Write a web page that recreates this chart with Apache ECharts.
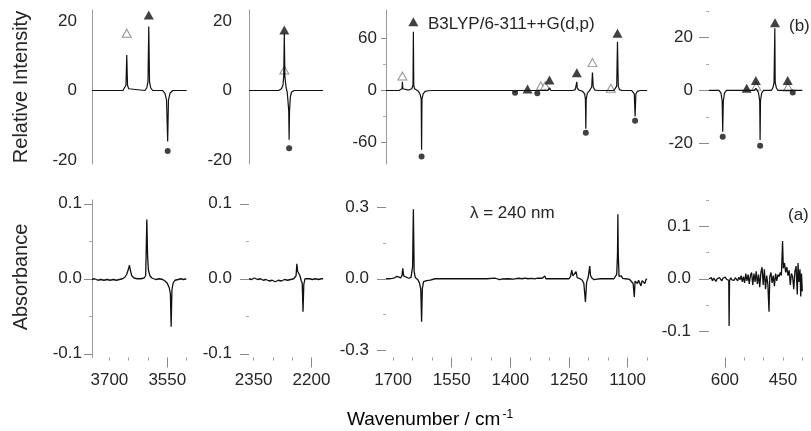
<!DOCTYPE html>
<html><head><meta charset="utf-8">
<script src="https://cdn.jsdelivr.net/npm/echarts@6/dist/echarts.min.js"></script>
<style>html,body{margin:0;padding:0;background:#fff}#c{width:811px;height:431px}</style>
</head><body><div id="c"></div>
<script>
// ---------- DATA (calculated spectrum, top row) ----------
var top1Curve = [[3745,0],[3665,0],[3660,0.5],[3657,1.5],[3655,10.2],[3653,1.5],[3650,0.5],[3645,0],[3608,0],[3603,0.8],[3600,2.5],[3598,18.4],[3596,2.5],[3593,0.8],[3588,0],[3562,0],[3556,-0.8],[3552,-2.8],[3549,-14.7],[3547,-2.8],[3543,-0.8],[3536,0],[3500,0]];
var top2Curve = [[2362,0],[2285,0],[2278,0.5],[2274,1.5],[2272,4],[2270.5,16.5],[2269,4],[2266,1],[2263,-0.5],[2261,-3],[2259,-6],[2258,-14.2],[2257,-6],[2255,-2],[2252,-0.5],[2245,0],[2170,0]];
var top3Curve = [[1718,0],[1685,0],[1680,0.5],[1677,2],[1676,10],[1675,2],[1670,0.5],[1660,0.5],[1652,2],[1649,6],[1648,67.6],[1647,6],[1645,2],[1640,1],[1635,-1],[1631,-4],[1628,-10],[1627,-68],[1626,-10],[1623,-4],[1618,-1],[1610,-0.3],[1600,0],[1395,0],[1388,-1.5],[1382,0],[1360,0],[1356,1],[1352,0],[1334,0],[1331,-1.5],[1328,0],[1304,0],[1300,3],[1296,0],[1240,0],[1234,1],[1231,3],[1230,10],[1229,3],[1225,0.5],[1215,-1],[1210,-4],[1208,-10],[1207,-44],[1206,-10],[1203,-3],[1198,-0.5],[1195,1],[1192,4],[1190,20.5],[1188,4],[1184,0.5],[1175,0],[1135,0],[1130,1.5],[1128,5],[1126,56],[1124,5],[1121,1],[1115,0],[1090,0],[1086,-1],[1083,-4],[1081,-30],[1079,-4],[1075,-1],[1068,0],[1050,0]];
var top4Curve = [[641,0],[615,0],[610,-1],[607,-4],[605.6,-15.6],[604,-4],[601,-1],[596,0],[548,0],[544,0.3],[540,0],[524,0],[520,0.8],[516,0],[513,-1],[510,-4],[509,-18.7],[508,-4],[505,-1],[500,0],[480,0],[476,1],[473,3],[471,23.5],[470,3],[467,1],[463,0],[442,0],[438,0.6],[434,0],[428,0],[425,-0.4],[422,0],[400,0]];

// markers (filled triangles, open triangles, filled circles)
var top1FilledTri = [[3598,21.7]];
var top1OpenTri   = [[3655,16.5]];
var top1Circles   = [[3549,-17.4]];
var top2FilledTri = [[2270.5,17.4]];
var top2OpenTri   = [[2270.5,5.9]];
var top2Circles   = [[2258,-16.6]];
var top3FilledTri = [[1648,79],[1356,1.7],[1300,12],[1230,20.5],[1126,65.7]];
var top3OpenTri   = [[1676,16.7],[1322,5.2],[1311,5.5],[1190,32],[1143,2.5]];
var top3Circles   = [[1627,-76],[1388,-2.5],[1331,-3.2],[1207,-48.5],[1081,-34.7]];
var top4FilledTri = [[543.6,0.8],[520,3.8],[470.5,25.6],[437.7,3.8]];
var top4OpenTri   = [[519,1.6],[437,1.3]];
var top4Circles   = [[605.6,-17.5],[509,-20.9],[424.7,-0.8]];

// ---------- DATA (measured difference spectrum, bottom row) ----------
var bottom1Curve = [[3745,-0.001],[3738,0.000],[3730,-0.002],[3722,-0.001],[3714,-0.002],[3706,-0.001],[3698,-0.002],[3690,-0.001],[3682,-0.002],[3674,-0.001],[3666,0.000],[3660,0.002],[3655,0.006],[3650,0.014],[3648,0.018],[3646,0.012],[3642,0.004],[3636,0.001],[3628,0.000],[3618,0.000],[3610,0.001],[3606,0.004],[3605,0.027],[3603,0.079],[3601,0.030],[3599,0.012],[3595,0.004],[3590,0.001],[3580,-0.001],[3570,0.000],[3562,-0.001],[3556,-0.003],[3550,-0.006],[3545,-0.012],[3542,-0.020],[3540,-0.064],[3538,-0.015],[3535,-0.006],[3530,-0.002],[3522,-0.001],[3515,0.000],[3508,-0.001],[3501,0.000]];
var bottom2Curve = [[2362,0.000],[2355,-0.001],[2348,0.001],[2340,-0.001],[2332,0.000],[2325,-0.002],[2318,-0.001],[2310,-0.003],[2302,-0.002],[2294,-0.004],[2286,-0.002],[2278,-0.003],[2270,-0.001],[2262,-0.002],[2254,-0.001],[2246,0.000],[2240,0.004],[2238,0.020],[2236,0.010],[2233,0.012],[2230,0.004],[2227,-0.002],[2224,-0.006],[2222,-0.044],[2220,-0.008],[2217,0.000],[2212,-0.002],[2205,0.000],[2198,-0.001],[2190,0.000],[2182,-0.001],[2175,0.000],[2170,0.000]];
var bottom3Curve = [[1718,0.000],[1710,0.000],[1702,0.002],[1696,0.004],[1690,0.010],[1686,0.003],[1680,0.004],[1677,0.015],[1675,0.044],[1673,0.012],[1668,0.004],[1660,0.002],[1654,0.006],[1650,0.050],[1648,0.291],[1646,0.030],[1643,0.005],[1640,0.008],[1636,-0.005],[1632,-0.020],[1629,-0.045],[1627,-0.180],[1625,-0.040],[1622,-0.012],[1618,-0.004],[1614,-0.008],[1610,-0.002],[1605,-0.006],[1600,-0.001],[1592,0.000],[1560,0.000],[1500,0.000],[1460,0.000],[1440,0.003],[1434,0.000],[1428,-0.004],[1420,-0.001],[1405,0.000],[1392,-0.002],[1388,-0.004],[1384,0.001],[1376,0.002],[1370,0.000],[1362,0.003],[1355,0.000],[1345,0.002],[1338,-0.001],[1330,0.003],[1325,0.000],[1318,0.002],[1312,0.012],[1309,0.000],[1295,0.000],[1270,0.000],[1250,0.000],[1246,0.010],[1243,0.036],[1240,0.012],[1235,0.010],[1232,0.030],[1229,0.005],[1222,0.000],[1216,-0.006],[1212,-0.020],[1208,-0.097],[1205,-0.015],[1201,0.005],[1197,0.053],[1195,0.015],[1192,0.004],[1189,0.006],[1186,-0.004],[1182,0.002],[1178,-0.002],[1170,0.000],[1150,0.000],[1135,0.000],[1131,0.005],[1128,0.018],[1126,0.100],[1125,0.270],[1124,0.100],[1122,0.010],[1119,0.005],[1116,0.012],[1113,0.002],[1105,0.000],[1095,-0.003],[1090,-0.010],[1086,-0.020],[1083,-0.076],[1081,-0.010],[1078,-0.005],[1075,-0.020],[1072,-0.006],[1069,-0.012],[1066,-0.030],[1063,-0.008],[1060,-0.004],[1056,-0.020],[1053,-0.003],[1050,-0.002]];
var bottom4Curve = [[641,0.000],[638,-0.003],[635,0.002],[632,-0.004],[629,0.001],[626,-0.002],[623,-0.005],[620,0.000],[617,-0.003],[614,0.002],[611,-0.001],[608,-0.004],[605,0.001],[602,-0.002],[599,0.003],[596,-0.001],[593,0.002],[590,-0.003],[589,-0.090],[588,-0.004],[585,0.002],[582,-0.002],[579,0.001],[576,-0.003],[573,0.002],[570,0.000],[567,-0.004],[564,0.003],[561,-0.002],[558,0.006],[555,-0.006],[552,0.004],[549,-0.008],[546,0.010],[543,-0.004],[540,0.008],[537,-0.010],[534,0.006],[531,0.012],[528,-0.012],[525,0.010],[522,-0.006],[519,0.014],[516,-0.010],[513,0.008],[510,-0.016],[507,0.012],[504,0.022],[501,-0.012],[498,0.018],[495,-0.020],[492,0.006],[489,-0.010],[486,-0.063],[484,0.004],[481,0.012],[478,-0.008],[475,0.006],[472,-0.014],[469,0.010],[466,-0.004],[463,0.008],[460,0.004],[457,0.012],[454,0.006],[451,0.072],[449,0.020],[446,0.030],[443,0.012],[440,0.022],[437,0.006],[434,0.016],[431,-0.012],[428,0.010],[425,0.004],[422,-0.020],[419,0.014],[416,0.024],[413,-0.030],[411,0.030],[409,-0.006],[406,0.018],[404,-0.034],[402,0.010],[400,-0.024]];

// ---------- TICKS ----------
var xLabels1 = [3700,3550], xMajor1 = [3550], xMinor1 = [3700,3650,3600,3500];
var xLabels2 = [2350,2200], xMajor2 = [2200], xMinor2 = [2350,2300,2250];
var xLabels3 = [1700,1550,1400,1250,1100], xMajor3 = [1550,1400,1250,1100], xMinor3 = [1700,1650,1600,1500,1450,1350,1300,1200,1150,1050];
var xLabels4 = [600,450], xMajor4 = [600], xMinor4 = [550,500,450,400];
var yTopLabels1 = [-20,0,20], yTopMinor1 = [];
var yTopLabels2 = [-20,0,20], yTopMinor2 = [];
var yTopLabels3 = [-60,0,60], yTopMinor3 = [-30,30];
var yTopLabels4 = [-20,0,20], yTopMinor4 = [-10,10,30];
var yBotLabels1 = [-0.1,0,0.1], yBotMinor1 = [-0.05,0.05];
var yBotLabels2 = [-0.1,0,0.1], yBotMinor2 = [-0.05,0.05];
var yBotLabels3 = [-0.3,0,0.3], yBotMinor3 = [-0.15,0.15];
var yBotLabels4 = [-0.1,0,0.1], yBotMinor4 = [-0.05,0.05,0.15];

// ---------- LAYOUT ----------
var FONT = "'Liberation Sans', Arial, sans-serif";
var TXT = '#262626', AX = '#9a9a9a';
var cols = [
  {left:92,  width:94.6,  xMin:3500, xMax:3745, xl:xLabels1, xM:xMajor1, xm:xMinor1},
  {left:249, width:81.8,  xMin:2150, xMax:2362, xl:xLabels2, xM:xMajor2, xm:xMinor2},
  {left:386, width:261.2, xMin:1050, xMax:1718, xl:xLabels3, xM:xMajor3, xm:xMinor3},
  {left:709, width:93.3,  xMin:400,  xMax:641,  xl:xLabels4, xM:xMajor4, xm:xMinor4}
];
var topRow = {top:10, height:154,
  y:[[-21.15,23.17],[-21.15,23.17],[-84.5,92.5],[-27.8,30.4]],
  lab:[yTopLabels1,yTopLabels2,yTopLabels3,yTopLabels4],
  minor:[yTopMinor1,yTopMinor2,yTopMinor3,yTopMinor4],
  tickLen:[0,0,5,10], line:[true,true,true,false], margin:[15,17,9,16], dec:0};
var botRow = {top:200, height:157.5,
  y:[[-0.105,0.105],[-0.105,0.105],[-0.33,0.33],[-0.15,0.15]],
  lab:[yBotLabels1,yBotLabels2,yBotLabels3,yBotLabels4],
  minor:[yBotMinor1,yBotMinor2,yBotMinor3,yBotMinor4],
  tickLen:[8,9,9,10], line:[true,false,false,false], margin:[10,17,17,18], dec:1};

var topCurves = [top1Curve, top2Curve, top3Curve, top4Curve];
var botCurves = [bottom1Curve, bottom2Curve, bottom3Curve, bottom4Curve];
var filledTri = [top1FilledTri, top2FilledTri, top3FilledTri, top4FilledTri];
var openTri = [top1OpenTri, top2OpenTri, top3OpenTri, top4OpenTri];
var circles = [top1Circles, top2Circles, top3Circles, top4Circles];

var grid = [], xAxis = [], yAxis = [], series = [];
[topRow, botRow].forEach(function (row, r) {
  cols.forEach(function (c, i) {
    var g = grid.length;
    grid.push({left:c.left, width:c.width, top:row.top, height:row.height, containLabel:false});
    var isBot = r === 1;
    xAxis.push({type:'value', gridIndex:g, inverse:true, min:c.xMin, max:c.xMax, position:'bottom',
      axisLine:{show:false, onZero:false}, splitLine:{show:false},
      axisTick:{show:isBot, customValues:c.xM, length:10, lineStyle:{color:'#888', width:1}},
      axisLabel:{show:isBot, customValues:c.xl, margin:14, fontSize:17, fontFamily:FONT, color:TXT,
        formatter:function (v) { return String(Math.round(v)); }}});
    xAxis.push({type:'value', gridIndex:g, inverse:true, min:c.xMin, max:c.xMax, position:'bottom',
      axisLine:{show:false, onZero:false}, splitLine:{show:false},
      axisTick:{show:isBot, customValues:c.xm, length:3, lineStyle:{color:'#999', width:1}},
      axisLabel:{show:false}});
    yAxis.push({type:'value', gridIndex:g, min:row.y[i][0], max:row.y[i][1], position:'left', offset:0,
      axisLine:{show:row.line[i], onZero:false, lineStyle:{color:AX, width:1}}, splitLine:{show:false},
      axisTick:{show:row.tickLen[i] > 0, customValues:row.lab[i], length:row.tickLen[i], lineStyle:{color:'#888', width:1}},
      axisLabel:{customValues:row.lab[i], margin:row.margin[i], fontSize:17, fontFamily:FONT, color:TXT,
        formatter:(function (d) { return function (v) { return (+v).toFixed(d); }; })(row.dec)}});
    yAxis.push({type:'value', gridIndex:g, min:row.y[i][0], max:row.y[i][1], position:'left', offset:0,
      axisLine:{show:false, onZero:false}, splitLine:{show:false},
      axisTick:{show:row.minor[i].length > 0, customValues:row.minor[i], length:3, lineStyle:{color:'#aaa', width:1}},
      axisLabel:{show:false}});
    var xi = 2 * g, yi = 2 * g;
    series.push({type:'line', xAxisIndex:xi, yAxisIndex:yi, data:(isBot ? botCurves : topCurves)[i],
      symbol:'none', clip:true, lineStyle:{color:'#111', width:isBot ? 1.3 : 1.2}, animation:false, silent:true});
    if (!isBot) {
      series.push({type:'scatter', xAxisIndex:xi, yAxisIndex:yi, data:openTri[i], symbol:'triangle', symbolSize:[9,8],
        clip:false, itemStyle:{color:'#fff', borderColor:'#777', borderWidth:1}, animation:false, silent:true});
      series.push({type:'scatter', xAxisIndex:xi, yAxisIndex:yi, data:filledTri[i], symbol:'triangle', symbolSize:[10,9],
        clip:false, itemStyle:{color:'#111'}, animation:false, silent:true});
      series.push({type:'scatter', xAxisIndex:xi, yAxisIndex:yi, data:circles[i], symbol:'circle', symbolSize:6,
        clip:false, itemStyle:{color:'#111'}, animation:false, silent:true});
    }
  });
});

var graphic = [
  {type:'text', x:21, y:87, rotation:Math.PI/2, style:{text:'Relative Intensity', font:'20px ' + FONT, fill:TXT, align:'center', verticalAlign:'middle'}},
  {type:'text', x:21, y:277, rotation:Math.PI/2, style:{text:'Absorbance', font:'20px ' + FONT, fill:TXT, align:'center', verticalAlign:'middle'}},
  {type:'text', x:428, y:24, style:{text:'B3LYP/6-311++G(d,p)', font:'17px ' + FONT, fill:TXT, align:'left', verticalAlign:'middle'}},
  {type:'text', x:789, y:26, style:{text:'(b)', font:'17px ' + FONT, fill:TXT, align:'left', verticalAlign:'middle'}},
  {type:'text', x:788, y:215, style:{text:'(a)', font:'17px ' + FONT, fill:TXT, align:'left', verticalAlign:'middle'}},
  {type:'text', x:470, y:213, style:{text:'\u03bb = 240 nm', font:'17px ' + FONT, fill:TXT, align:'left', verticalAlign:'middle'}},
  {type:'text', x:430, y:420, style:{text:'{a|Wavenumber / cm}{s|-1}', align:'center', verticalAlign:'middle',
    rich:{a:{fontSize:19, fontFamily:FONT, color:TXT},
          s:{fontSize:12, fontFamily:FONT, color:TXT, verticalAlign:'top', padding:[0,0,10,2]}}}}
];

var chart = echarts.init(document.getElementById('c'), null, {renderer:'canvas'});
chart.setOption({animation:false, backgroundColor:'#fff', grid:grid, xAxis:xAxis, yAxis:yAxis, series:series, graphic:graphic});
</script></body></html>
